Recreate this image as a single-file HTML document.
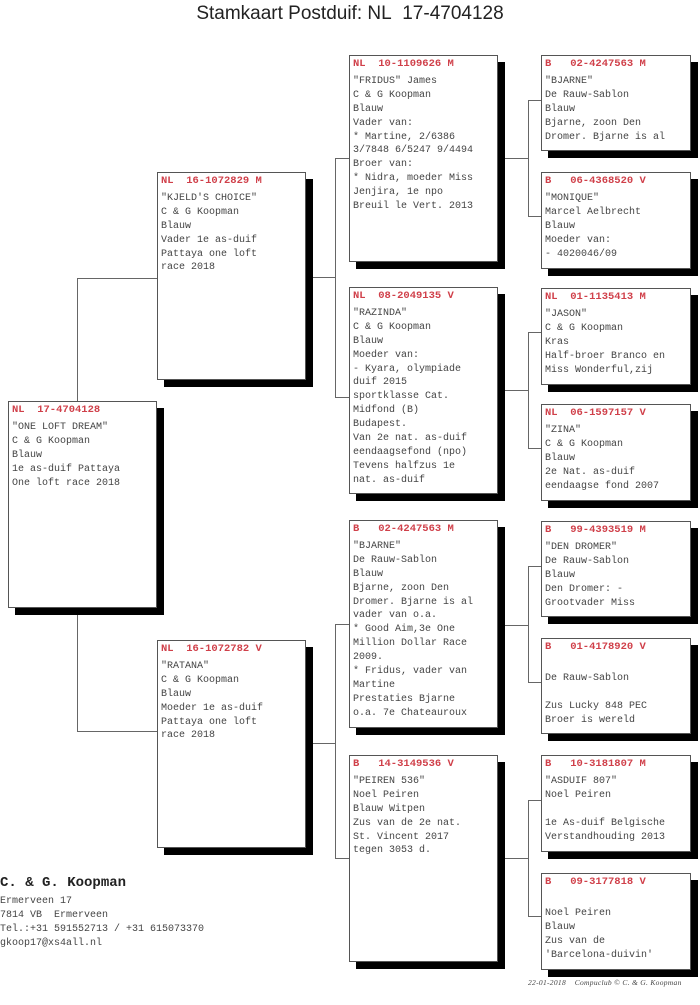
<!DOCTYPE html>
<html><head><meta charset="utf-8"><style>
body{margin:0;width:700px;height:1005px;background:#fff;position:relative;overflow:hidden;font-family:"Liberation Mono",monospace;}
.b{position:absolute;background:#fff;border:1px solid #555;box-shadow:7px 7px 0 #000;box-sizing:border-box;padding:2px 0 0 3px;font-size:10px;line-height:13.9px;color:#444;white-space:pre;}
.h{color:#d0404a;font-weight:bold;font-size:10.5px;margin-bottom:3px;}
.l{position:absolute;background:#666;}
.t{position:absolute;top:3px;left:0;width:700px;text-align:center;font-family:"Liberation Sans",sans-serif;font-size:19px;color:#222;}
</style></head><body>
<div class="t">Stamkaart Postduif: NL&nbsp;&nbsp;17-4704128</div>

<div class="l" style="left:77px;top:278px;width:1px;height:124px"></div>
<div class="l" style="left:77px;top:278px;width:80px;height:1px"></div>
<div class="l" style="left:77px;top:608px;width:1px;height:124px"></div>
<div class="l" style="left:77px;top:731px;width:80px;height:1px"></div>
<div class="l" style="left:305px;top:277px;width:30px;height:1px"></div>
<div class="l" style="left:335px;top:158px;width:1px;height:240px"></div>
<div class="l" style="left:335px;top:158px;width:14px;height:1px"></div>
<div class="l" style="left:335px;top:397px;width:14px;height:1px"></div>
<div class="l" style="left:305px;top:743px;width:30px;height:1px"></div>
<div class="l" style="left:335px;top:624px;width:1px;height:235px"></div>
<div class="l" style="left:335px;top:624px;width:14px;height:1px"></div>
<div class="l" style="left:335px;top:858px;width:14px;height:1px"></div>
<div class="l" style="left:497px;top:158px;width:31px;height:1px"></div>
<div class="l" style="left:528px;top:100px;width:1px;height:117px"></div>
<div class="l" style="left:528px;top:100px;width:13px;height:1px"></div>
<div class="l" style="left:528px;top:216px;width:13px;height:1px"></div>
<div class="l" style="left:497px;top:390px;width:31px;height:1px"></div>
<div class="l" style="left:528px;top:332px;width:1px;height:117px"></div>
<div class="l" style="left:528px;top:332px;width:13px;height:1px"></div>
<div class="l" style="left:528px;top:448px;width:13px;height:1px"></div>
<div class="l" style="left:497px;top:625px;width:31px;height:1px"></div>
<div class="l" style="left:528px;top:566px;width:1px;height:117px"></div>
<div class="l" style="left:528px;top:566px;width:13px;height:1px"></div>
<div class="l" style="left:528px;top:682px;width:13px;height:1px"></div>
<div class="l" style="left:497px;top:858px;width:31px;height:1px"></div>
<div class="l" style="left:528px;top:800px;width:1px;height:117px"></div>
<div class="l" style="left:528px;top:800px;width:13px;height:1px"></div>
<div class="l" style="left:528px;top:916px;width:13px;height:1px"></div>

<div class="b" style="left:8px;top:401px;width:149px;height:207px"><div class="h">NL  17-4704128</div>"ONE LOFT DREAM"
C &amp; G Koopman
Blauw
1e as-duif Pattaya
One loft race 2018</div>

<div class="b" style="left:157px;top:172px;width:149px;height:208px"><div class="h">NL  16-1072829 M</div>"KJELD'S CHOICE"
C &amp; G Koopman
Blauw
Vader 1e as-duif
Pattaya one loft
race 2018</div>
<div class="b" style="left:157px;top:640px;width:149px;height:208px"><div class="h">NL  16-1072782 V</div>"RATANA"
C &amp; G Koopman
Blauw
Moeder 1e as-duif
Pattaya one loft
race 2018</div>

<div class="b" style="left:349px;top:55px;width:149px;height:207px"><div class="h">NL  10-1109626 M</div>"FRIDUS" James
C &amp; G Koopman
Blauw
Vader van:
* Martine, 2/6386
3/7848 6/5247 9/4494
Broer van:
* Nidra, moeder Miss
Jenjira, 1e npo
Breuil le Vert. 2013</div>
<div class="b" style="left:349px;top:287px;width:149px;height:207px"><div class="h">NL  08-2049135 V</div>"RAZINDA"
C &amp; G Koopman
Blauw
Moeder van:
- Kyara, olympiade
duif 2015
sportklasse Cat.
Midfond (B)
Budapest.
Van 2e nat. as-duif
eendaagsefond (npo)
Tevens halfzus 1e
nat. as-duif</div>
<div class="b" style="left:349px;top:520px;width:149px;height:208px"><div class="h">B   02-4247563 M</div>"BJARNE"
De Rauw-Sablon
Blauw
Bjarne, zoon Den
Dromer. Bjarne is al
vader van o.a.
* Good Aim,3e One
Million Dollar Race
2009.
* Fridus, vader van
Martine
Prestaties Bjarne
o.a. 7e Chateauroux</div>
<div class="b" style="left:349px;top:755px;width:149px;height:207px"><div class="h">B   14-3149536 V</div>"PEIREN 536"
Noel Peiren
Blauw Witpen
Zus van de 2e nat.
St. Vincent 2017
tegen 3053 d.</div>

<div class="b" style="left:541px;top:55px;width:150px;height:96px"><div class="h">B   02-4247563 M</div>"BJARNE"
De Rauw-Sablon
Blauw
Bjarne, zoon Den
Dromer. Bjarne is al</div>
<div class="b" style="left:541px;top:172px;width:150px;height:97px"><div class="h">B   06-4368520 V</div>"MONIQUE"
Marcel Aelbrecht
Blauw
Moeder van:
- 4020046/09</div>
<div class="b" style="left:541px;top:288px;width:150px;height:97px"><div class="h">NL  01-1135413 M</div>"JASON"
C &amp; G Koopman
Kras
Half-broer Branco en
Miss Wonderful,zij</div>
<div class="b" style="left:541px;top:404px;width:150px;height:97px"><div class="h">NL  06-1597157 V</div>"ZINA"
C &amp; G Koopman
Blauw
2e Nat. as-duif
eendaagse fond 2007</div>
<div class="b" style="left:541px;top:521px;width:150px;height:96px"><div class="h">B   99-4393519 M</div>"DEN DROMER"
De Rauw-Sablon
Blauw
Den Dromer: -
Grootvader Miss</div>
<div class="b" style="left:541px;top:638px;width:150px;height:96px"><div class="h">B   01-4178920 V</div>
De Rauw-Sablon

Zus Lucky 848 PEC
Broer is wereld</div>
<div class="b" style="left:541px;top:755px;width:150px;height:97px"><div class="h">B   10-3181807 M</div>"ASDUIF 807"
Noel Peiren

1e As-duif Belgische
Verstandhouding 2013</div>
<div class="b" style="left:541px;top:873px;width:150px;height:97px"><div class="h">B   09-3177818 V</div>
Noel Peiren
Blauw
Zus van de
'Barcelona-duivin'</div>

<div style="position:absolute;left:0;top:875px;font-size:14px;font-weight:bold;color:#222;">C. &amp; G. Koopman</div>
<div style="position:absolute;left:0;top:895px;font-size:10px;line-height:14px;color:#444;white-space:pre;">Ermerveen 17
7814 VB  Ermerveen
Tel.:+31 591552713 / +31 615073370
gkoop17@xs4all.nl</div>
<div style="position:absolute;left:528px;top:978px;font-family:'Liberation Serif',serif;font-style:italic;font-size:7.5px;letter-spacing:0.3px;color:#444;white-space:pre;">22-01-2018    Compuclub © C. &amp; G. Koopman</div>
</body></html>
